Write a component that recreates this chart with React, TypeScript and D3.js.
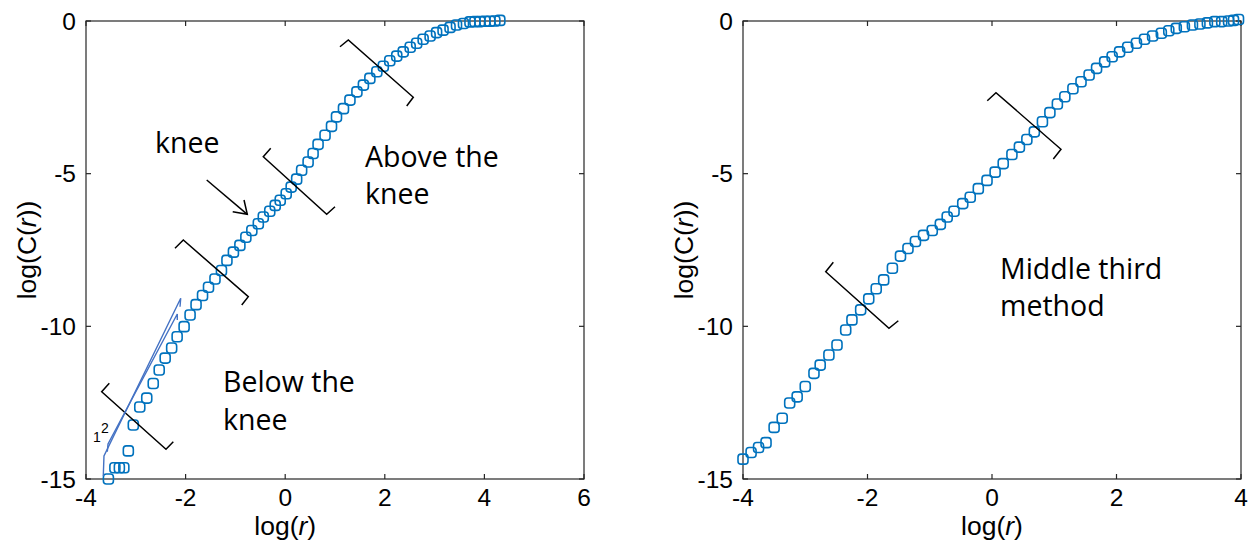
import React from "react";
import * as d3 from "d3";

// ---------- data ----------
const leftLogR = [-3.55,-3.42,-3.33,-3.24,-3.15,-3.05,-2.92,-2.78,-2.65,-2.53,-2.41,-2.28,-2.17,-2.03,-1.91,-1.79,-1.66,-1.54,-1.41,-1.28,-1.17,-1.04,-0.91,-0.79,-0.67,-0.54,-0.44,-0.31,-0.20,-0.10,0.02,0.12,0.23,0.33,0.46,0.56,0.66,0.80,0.93,1.03,1.17,1.30,1.44,1.57,1.70,1.84,1.97,2.10,2.24,2.37,2.51,2.64,2.77,2.91,3.04,3.17,3.31,3.44,3.58,3.71,3.81,3.91,4.01,4.11,4.21,4.31];
const leftLogC = [-15.0,-14.63,-14.63,-14.63,-14.08,-13.23,-12.64,-12.35,-11.87,-11.43,-11.04,-10.71,-10.34,-10.01,-9.63,-9.29,-8.99,-8.72,-8.45,-8.17,-7.84,-7.57,-7.35,-7.08,-6.86,-6.64,-6.42,-6.23,-6.04,-5.87,-5.66,-5.44,-5.18,-4.89,-4.62,-4.34,-4.04,-3.74,-3.45,-3.14,-2.87,-2.59,-2.32,-2.10,-1.88,-1.66,-1.48,-1.30,-1.15,-1.01,-0.86,-0.73,-0.60,-0.49,-0.38,-0.30,-0.21,-0.13,-0.08,-0.03,-0.02,-0.02,-0.01,-0.01,0.0,0.02];

const rightLogR = [-4.00,-3.87,-3.75,-3.63,-3.50,-3.37,-3.25,-3.13,-3.00,-2.86,-2.76,-2.62,-2.49,-2.35,-2.25,-2.11,-1.98,-1.86,-1.74,-1.60,-1.47,-1.35,-1.23,-1.10,-0.96,-0.83,-0.72,-0.61,-0.47,-0.35,-0.22,-0.08,0.05,0.18,0.32,0.44,0.56,0.68,0.81,0.93,1.05,1.17,1.30,1.43,1.56,1.68,1.81,1.93,2.05,2.18,2.32,2.45,2.58,2.72,2.84,2.96,3.09,3.22,3.34,3.46,3.58,3.69,3.80,3.88,3.96];
const rightLogC = [-14.35,-14.13,-13.97,-13.81,-13.31,-13.01,-12.51,-12.31,-11.97,-11.54,-11.27,-10.94,-10.61,-10.12,-9.79,-9.46,-9.10,-8.77,-8.48,-8.10,-7.70,-7.45,-7.22,-7.02,-6.86,-6.66,-6.42,-6.23,-5.98,-5.77,-5.49,-5.22,-4.95,-4.67,-4.37,-4.13,-3.88,-3.63,-3.30,-3.00,-2.72,-2.48,-2.22,-1.99,-1.77,-1.55,-1.34,-1.17,-1.01,-0.86,-0.73,-0.60,-0.49,-0.40,-0.32,-0.24,-0.19,-0.13,-0.10,-0.06,-0.02,-0.02,0.0,0.02,0.05];

const leftXTicks = [-4, -2, 0, 2, 4, 6];
const rightXTicks = [-4, -2, 0, 2, 4];
const yTicks = [0, -5, -10, -15];

// annotation geometry (data units)
type P = [number, number];
const leftBrackets: P[][] = [
  [[-3.532,-11.866],[-3.685,-12.141],[-2.394,-14.027],[-2.247,-13.778]],
  [[-2.213,-7.444],[-2.046,-7.172],[-0.741,-9.029],[-0.873,-9.301]],
  [[-0.291,-4.169],[-0.440,-4.444],[0.833,-6.331],[1.0,-6.082]],
  [[1.100,-0.842],[1.267,-0.622],[2.572,-2.499],[2.440,-2.784]],
];
const rightBrackets: P[][] = [
  [[-2.549,-7.903],[-2.671,-8.211],[-1.655,-10.065],[-1.505,-9.816]],
  [[-0.076,-2.610],[0.064,-2.348],[1.108,-4.202],[0.985,-4.520]],
];
const slopeOuter: P[] = [[-3.653,-14.902],[-3.639,-14.247],[-2.098,-9.082],[-2.112,-9.357]];
const slopeInner: P[] = [[-3.572,-14.106],[-3.558,-13.854],[-2.167,-9.596],[-2.167,-9.793]];
const arrowShaft: P[] = [[-1.576,-5.207],[-0.761,-6.331]];
const arrowHead: P[] = [[-1.054,-6.245],[-0.761,-6.331],[-0.827,-5.862]];

const W = 1257, H = 542;
const TOP = 21, BOTTOM = 479;
const AX = "#262626";
const BLUE = "#0072BD";
const TICKFONT = "'Liberation Sans', Arial, sans-serif";
const NOTEFONT = "'Open Sans', sans-serif";

function Panel({ xDomain, xRange, xTicks, xs, ys, brackets, titleX, children }: any) {
  const x = d3.scaleLinear().domain(xDomain).range(xRange);
  const y = d3.scaleLinear().domain([-15, 0]).range([BOTTOM, TOP]);
  const line = d3.line<P>().x(d => x(d[0])).y(d => y(d[1]));
  const [x0, x1] = xRange;
  const tl = 5;
  return (
    <g>
      <rect x={x0} y={TOP} width={x1 - x0} height={BOTTOM - TOP} fill="none" stroke={AX} strokeWidth={1.2} />
      {xTicks.map((t: number) => (
        <g key={"x" + t}>
          <line x1={x(t)} x2={x(t)} y1={BOTTOM} y2={BOTTOM - tl} stroke={AX} strokeWidth={1.2} />
          <line x1={x(t)} x2={x(t)} y1={TOP} y2={TOP + tl} stroke={AX} strokeWidth={1.2} />
          <text x={x(t)} y={BOTTOM + 27} textAnchor="middle" fontFamily={TICKFONT} fontSize={24.5} fill="#000">{t < 0 ? "-" + Math.abs(t) : t}</text>
        </g>
      ))}
      {yTicks.map((t: number) => (
        <g key={"y" + t}>
          <line x1={x0} x2={x0 + tl} y1={y(t)} y2={y(t)} stroke={AX} strokeWidth={1.2} />
          <line x1={x1} x2={x1 - tl} y1={y(t)} y2={y(t)} stroke={AX} strokeWidth={1.2} />
          <text x={x0 - 10} y={y(t)} dy="0.36em" textAnchor="end" fontFamily={TICKFONT} fontSize={24.5} fill="#000">{t < 0 ? "-" + Math.abs(t) : t}</text>
        </g>
      ))}
      <text x={x(titleX)} y={535} textAnchor="middle" fontFamily={TICKFONT} fontSize={26.5} fill="#000">
        log(<tspan fontStyle="italic">r</tspan>)
      </text>
      <text transform={`translate(${x0 - 60},250) rotate(-90)`} textAnchor="middle" dy="0.36em" fontFamily={TICKFONT} fontSize={26.5} fill="#000">
        log(C(<tspan fontStyle="italic">r</tspan>))
      </text>
      {xs.map((v: number, i: number) => (
        <rect key={i} x={x(v) - 5} y={y(ys[i]) - 5} width={10} height={10} rx={3} fill="none" stroke={BLUE} strokeWidth={1.6} />
      ))}
      {brackets.map((b: P[], i: number) => (
        <path key={"b" + i} d={line(b) || ""} fill="none" stroke="#000" strokeWidth={1.5} />
      ))}
      {children && children(x, y, line)}
    </g>
  );
}

export default function App() {
  return (
    <svg width={W} height={H} style={{ position: "absolute", left: 0, top: 0, background: "#fff" }}>
      <Panel xDomain={[-4, 6]} xRange={[86, 584]} xTicks={leftXTicks} xs={leftLogR} ys={leftLogC} brackets={leftBrackets} titleX={0}>
        {(x: any, y: any, line: any) => (
          <g>
            <path d={line(slopeOuter)} fill="none" stroke="#4472C4" strokeWidth={1.4} />
            <path d={line(slopeInner)} fill="none" stroke="#4472C4" strokeWidth={1.4} />
            <text x={x(-3.859)} y={y(-13.788)} fontFamily={TICKFONT} fontSize={14} fill="#000">1</text>
            <text x={x(-3.699)} y={y(-13.494)} fontFamily={TICKFONT} fontSize={14} fill="#000">2</text>
            <path d={line(arrowShaft)} fill="none" stroke="#000" strokeWidth={1.5} />
            <path d={line(arrowHead)} fill="none" stroke="#000" strokeWidth={1.5} />
            <text x={x(-2.614)} y={y(-4.323)} fontFamily={NOTEFONT} fontSize={28.5} fill="#000">knee</text>
            <text x={x(1.602)} y={y(-4.782)} fontFamily={NOTEFONT} fontSize={28.5} fill="#000">Above the</text>
            <text x={x(1.602)} y={y(-5.994)} fontFamily={NOTEFONT} fontSize={28.5} fill="#000">knee</text>
            <text x={x(-1.249)} y={y(-12.151)} fontFamily={NOTEFONT} fontSize={28.5} fill="#000">Below the</text>
            <text x={x(-1.249)} y={y(-13.395)} fontFamily={NOTEFONT} fontSize={28.5} fill="#000">knee</text>
          </g>
        )}
      </Panel>
      <Panel xDomain={[-4, 4]} xRange={[743, 1241]} xTicks={rightXTicks} xs={rightLogR} ys={rightLogC} brackets={rightBrackets} titleX={0}>
        {(x: any, y: any) => (
          <g>
            <text x={x(0.129)} y={y(-8.45)} fontFamily={NOTEFONT} fontSize={28.5} fill="#000">Middle third</text>
            <text x={x(0.129)} y={y(-9.662)} fontFamily={NOTEFONT} fontSize={28.5} fill="#000">method</text>
          </g>
        )}
      </Panel>
    </svg>
  );
}
